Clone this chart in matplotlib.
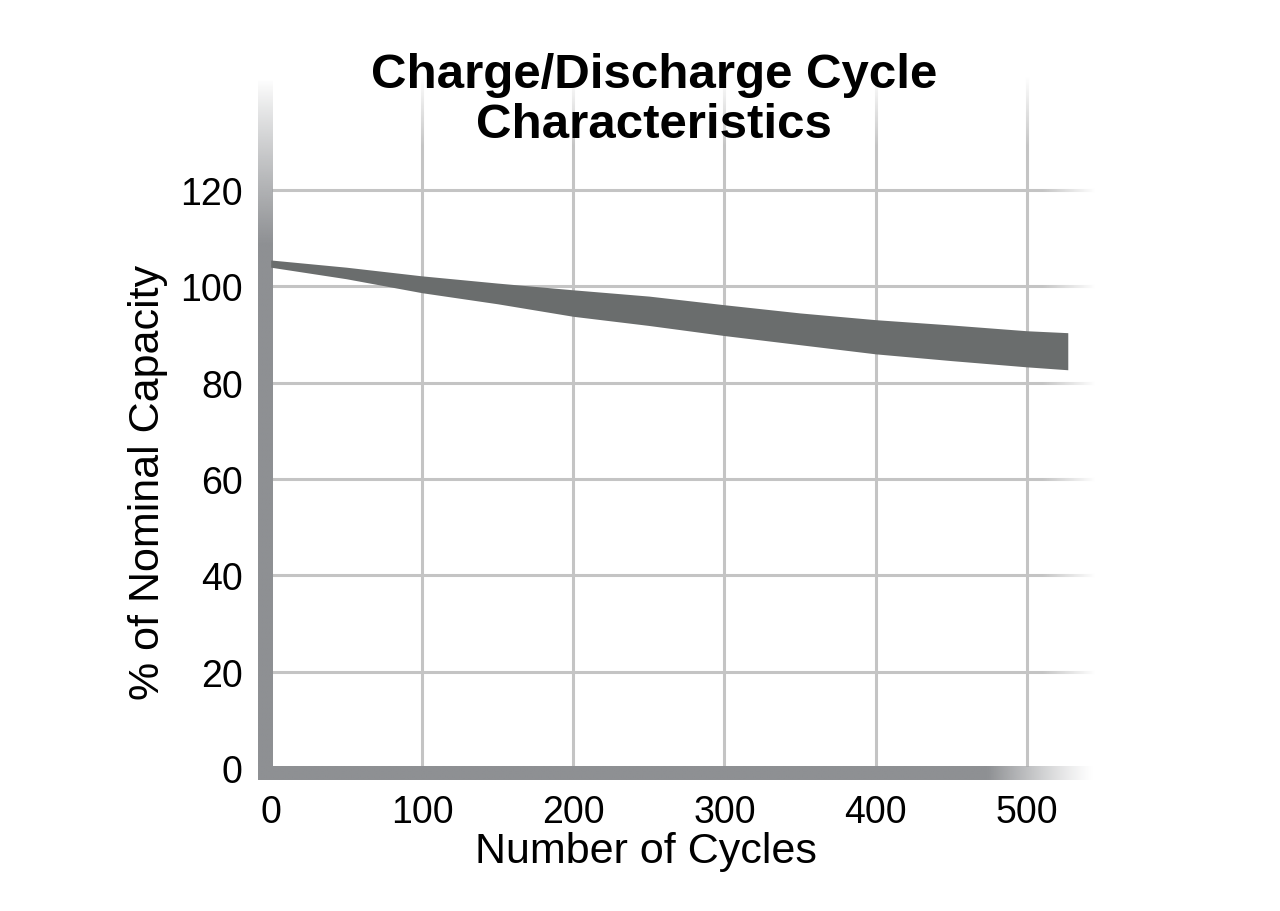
import matplotlib.pyplot as plt
import numpy as np

plt.rcParams['font.family'] = ['Liberation Sans', 'DejaVu Sans']

# data
cycles = [0, 50, 100, 150, 200, 250, 300, 350, 400, 450, 500, 527]
upper = [105.5, 104.0, 102.2, 100.7, 99.3, 98.0, 96.2, 94.5, 93.1, 92.0, 90.8, 90.4]
lower = [104.0, 101.6, 98.7, 96.4, 93.8, 91.9, 89.8, 87.9, 86.0, 84.6, 83.3, 82.7]

x_ticks = [0, 100, 200, 300, 400, 500]
y_ticks = [0, 20, 40, 60, 80, 100, 120]

title_lines = ['Charge/Discharge Cycle', 'Characteristics']
x_label = 'Number of Cycles'
y_label = '% of Nominal Capacity'

W, H = 1280, 912
XMIN, XMAX = -8.4, 545
YMIN, YMAX = -2.5, 143.5
grid_col = '#c4c4c4'
bar_col = np.array([0x8e, 0x90, 0x93]) / 255
band_col = '#6a6d6d'

fig = plt.figure(figsize=(W / 100, H / 100), dpi=100)
ax = fig.add_axes([258 / W, (H - 781) / H, (1095 - 258) / W, (781 - 78) / H])
ax.set_autoscale_on(False)
ax.set_xlim(XMIN, XMAX)
ax.set_ylim(YMIN, YMAX)
for s in ax.spines.values():
    s.set_visible(False)

# grid
ax.hlines(y_ticks[1:], 0.9, XMAX, color=grid_col, lw=2.2, zorder=1)
ax.vlines(x_ticks[1:], 0.4, YMAX, color=grid_col, lw=2.2, zorder=1)

# white fades over grid (top and right)
n = 256
fade_top = np.ones((n, 1, 4))
fade_top[:, 0, 3] = np.linspace(1, 0, n)
ax.imshow(fade_top, extent=(0.9, XMAX, 129, YMAX), origin='upper',
          aspect='auto', zorder=2, interpolation='bilinear')
fade_right = np.ones((1, n, 4))
fade_right[0, :, 3] = np.linspace(0, 1, n)
ax.imshow(fade_right, extent=(510, XMAX, 0.4, YMAX), aspect='auto',
          zorder=2, interpolation='bilinear')

# thick left bar, fading to white at top
left_img = np.ones((n, 1, 4))
left_img[:, 0, :3] = bar_col
t = np.linspace(0, 1, n)
left_img[:, 0, 3] = np.clip((1 - t) / 0.24, 0, 1) ** 0.9
ax.imshow(left_img, extent=(XMIN, 0.9, 0.4, YMAX - 0.4), origin='lower',
          aspect='auto', zorder=3, interpolation='bilinear')

# thick bottom bar, fading to white at right
bot_img = np.ones((1, n, 4))
bot_img[0, :, :3] = bar_col
u = np.linspace(XMIN, XMAX, n)
bot_img[0, :, 3] = np.clip((XMAX - u) / (XMAX - 475), 0, 1) ** 1.2
ax.imshow(bot_img, extent=(XMIN, XMAX, YMIN, 0.4), aspect='auto',
          zorder=3, interpolation='bilinear')

# capacity band
ax.fill_between(cycles, lower, upper, color=band_col, lw=0, zorder=4)

ax.set_xticks(x_ticks)
ax.set_yticks(y_ticks)
ax.tick_params(length=0, labelsize=27)
ax.tick_params(axis='x', pad=10)
ax.tick_params(axis='y', pad=11)

fig.text(654 / W, 1 - 75 / H, title_lines[0], ha='center', va='center',
         fontsize=35.5, fontweight='bold')
fig.text(654 / W, 1 - 125 / H, title_lines[1], ha='center', va='center',
         fontsize=35.5, fontweight='bold')
fig.text(646 / W, 1 - 852 / H, x_label, ha='center', va='center', fontsize=31)
fig.text(148 / W, 1 - 482 / H, y_label, ha='center', va='center',
         fontsize=31, rotation=90)

plt.savefig('out.png', dpi=100)
